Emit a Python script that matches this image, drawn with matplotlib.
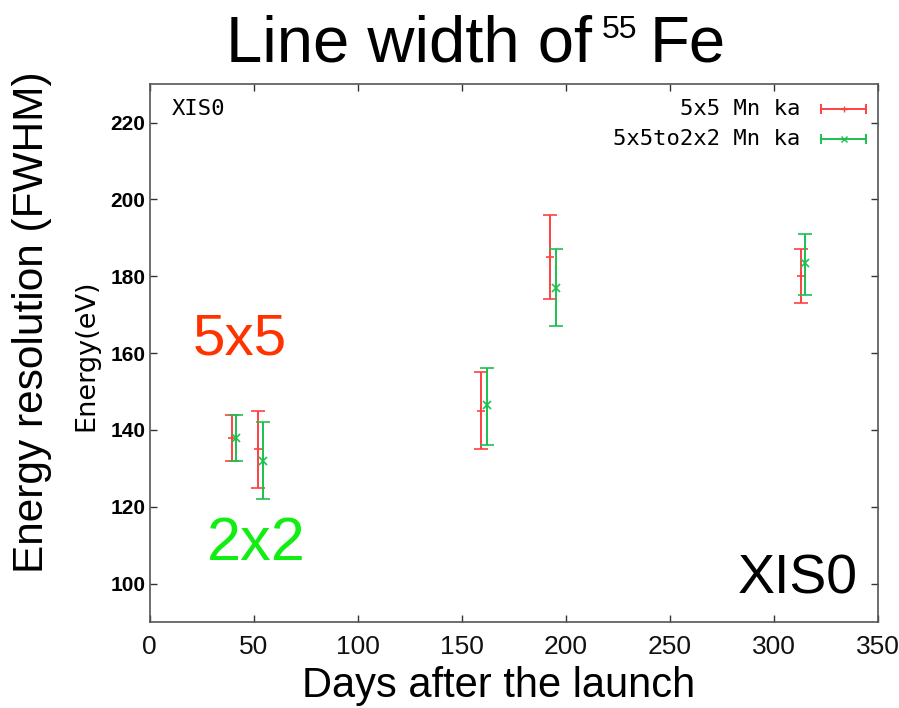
import matplotlib
matplotlib.use("Agg")
import matplotlib.pyplot as plt
import numpy as np

# 5x5 Mn K-alpha line width (eV) vs days after launch
days_5x5 = [39.5, 52.0, 159.5, 192.5, 313.0]
fwhm_5x5 = [138.0, 135.0, 145.0, 185.0, 180.0]
lo_5x5 = [132.0, 125.0, 135.0, 174.0, 173.0]
hi_5x5 = [144.0, 145.0, 155.0, 196.0, 187.0]

# 5x5 -> 2x2 converted
days_2x2 = [41.5, 54.5, 162.0, 195.5, 315.0]
fwhm_2x2 = [138.0, 132.0, 146.5, 177.0, 183.5]
lo_2x2 = [132.0, 122.0, 136.0, 167.0, 175.0]
hi_2x2 = [144.0, 142.0, 156.0, 187.0, 191.0]

x_ticks = [0, 50, 100, 150, 200, 250, 300, 350]
y_ticks = [100, 120, 140, 160, 180, 200, 220]

RED = "#ff4040"
GREEN = "#1cc050"
SANS = ["Liberation Sans", "DejaVu Sans"]
MONO = ["DejaVu Sans Mono"]

W, H = 899, 708
fig = plt.figure(figsize=(W / 100, H / 100), dpi=100)
ax = fig.add_axes([149.5 / W, 1 - 622 / H, 728.5 / W, 537.8 / H])

for d, v, lo, hi, col, mk in [(days_5x5, fwhm_5x5, lo_5x5, hi_5x5, RED, "+"),
                              (days_2x2, fwhm_2x2, lo_2x2, hi_2x2, GREEN, "x")]:
    v = np.asarray(v)
    yerr = [v - np.asarray(lo), np.asarray(hi) - v]
    ax.errorbar(d, v, yerr=yerr, fmt=mk, color=col, ms=6, mew=1.2,
                elinewidth=1.4, capsize=5, capthick=1.4)

ax.set_xlim(0, 350)
ax.set_ylim(90, 230)
ax.set_xticks(x_ticks)
ax.set_yticks(y_ticks)
ax.tick_params(direction="in", top=True, right=True, length=5, width=1,
               color="#333333")
ax.tick_params(axis="x", pad=9, labelsize=19, labelcolor="#111111")
ax.tick_params(axis="y", pad=3, labelsize=15)
for lab in ax.get_xticklabels():
    lab.set_family(SANS)
for lab in ax.get_yticklabels():
    lab.set_family(SANS)
    lab.set_fontweight("bold")
for s in ax.spines.values():
    s.set_color("#555555")
    s.set_linewidth(1.2)

# gnuplot-style key and label inside the frame
ax.text(0.03, 0.953, "XIS0", transform=ax.transAxes, family=MONO, fontsize=16,
        va="center", ha="left")
for yk, lab, col, mk in [(0.953, "5x5 Mn ka", RED, "+"),
                         (0.899, "5x5to2x2 Mn ka", GREEN, "x")]:
    ax.text(0.893, yk, lab, transform=ax.transAxes, family=MONO, fontsize=16,
            va="center", ha="right")
    ax.plot([0.922, 0.9835], [yk, yk], transform=ax.transAxes, color=col,
            lw=1.4, clip_on=False)
    ax.plot([0.922, 0.9835], [yk, yk], "|", transform=ax.transAxes, color=col,
            ms=7, mew=1.4, clip_on=False)
    ax.plot([0.953], [yk], mk, transform=ax.transAxes, color=col, ms=5,
            clip_on=False)

# original gnuplot y label (partly hidden behind the tick labels)
fig.text(86 / W, 1 - 355 / H, "Energy(eV)", rotation=90, ha="center",
         va="center", family=["DejaVu Sans"], fontsize=19.5)

# slide annotations
fig.text(592 / W, 1 - 62 / H, "Line width of", ha="right", va="baseline",
         family=SANS, fontsize=47)
fig.text(602 / W, 1 - 38 / H, "55", ha="left", va="baseline",
         family=SANS, fontsize=23)
fig.text(650 / W, 1 - 62 / H, "Fe", ha="left", va="baseline",
         family=SANS, fontsize=47)
fig.text(32 / W, 1 - 322 / H, "Energy resolution (FWHM)", rotation=90,
         ha="center", va="center", family=SANS, fontsize=30.5)
fig.text(499 / W, 1 - 697 / H, "Days after the launch", ha="center",
         va="baseline", family=SANS, fontsize=30)
fig.text(193 / W, 1 - 355 / H, "5x5", ha="left", va="baseline",
         family=SANS, fontsize=42, color="#ff3300")
fig.text(207 / W, 1 - 560 / H, "2x2", ha="left", va="baseline",
         family=SANS, fontsize=44, color="#11ee11")
fig.text(738 / W, 1 - 593 / H, "XIS0", ha="left", va="baseline",
         family=SANS, fontsize=40)

fig.savefig("out.png", dpi=100)
